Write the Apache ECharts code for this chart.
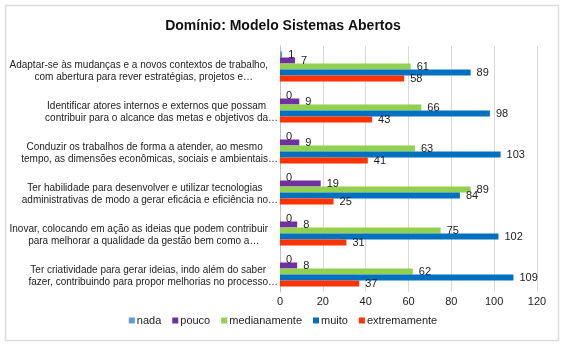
<!DOCTYPE html>
<html>
<head>
<meta charset="utf-8">
<script src="https://cdn.jsdelivr.net/npm/echarts@6/dist/echarts.min.js"></script>
<style>html,body{margin:0;padding:0;background:#fff}#c{width:566px;height:347px}</style>
</head>
<body>
<div id="c"></div>
<script>
var titleText = 'Domínio: Modelo Sistemas Abertos';
var categories = [
  ['Adaptar-se às mudanças e a novos contextos de trabalho,', 'com abertura para rever estratégias, projetos e…'],
  ['Identificar atores internos e externos que possam', 'contribuir para o alcance das metas e objetivos da…'],
  ['Conduzir os trabalhos de forma a atender, ao mesmo', 'tempo, as dimensões econômicas, sociais e ambientais…'],
  ['Ter habilidade para desenvolver e utilizar tecnologias', 'administrativas de modo a gerar eficácia e eficiência no…'],
  ['Inovar, colocando em ação as ideias que podem contribuir', 'para melhorar a qualidade da gestão bem como a…'],
  ['Ter criatividade para gerar ideias, indo além do saber', 'fazer, contribuindo para propor melhorias no processo…']
];
var seriesNames = ['nada', 'pouco', 'medianamente', 'muito', 'extremamente'];
var nada = [1, 0, 0, 0, 0, 0];
var pouco = [7, 9, 9, 19, 8, 8];
var medianamente = [61, 66, 63, 89, 75, 62];
var muito = [89, 98, 103, 84, 102, 109];
var extremamente = [58, 43, 41, 25, 31, 37];
var xTicks = [0, 20, 40, 60, 80, 100, 120];

var colors = ['#5b9bd5', '#7030a0', '#92d050', '#0070c0', '#ff3300'];
var values = [nada, pouco, medianamente, muito, extremamente];
var font = 'Liberation Sans, Arial, sans-serif';

var chart = echarts.init(document.getElementById('c'), null, {renderer: 'canvas'});
var series = seriesNames.map(function (n, i) {
  return {
    name: n,
    type: 'bar',
    data: values[i],
    barWidth: 6,
    barGap: '0%',
    itemStyle: {color: colors[i]},
    label: {
      show: true, position: 'right', distance: 6,
      color: '#222', fontSize: 11, fontFamily: font
    },
    emphasis: {disabled: true},
    animation: false
  };
});

var ES = {align: 'center', fontSize: 10, color: '#222', fontFamily: font, lineHeight: 12, width: 10};

chart.setOption({
  animation: false,
  color: colors,
  title: {
    text: titleText, left: 'center', top: 14,
    textStyle: {fontSize: 14, fontWeight: 'bold', color: '#111', fontFamily: font}
  },
  graphic: [{
    type: 'rect', shape: {x: 5.5, y: 5.5, width: 553, height: 335},
    style: {fill: 'none', stroke: '#dcdcdc', lineWidth: 1.5}, silent: true
  }],
  legend: {
    data: seriesNames, bottom: 16, left: 'center',
    itemWidth: 6, itemHeight: 6, itemGap: 11, icon: 'rect',
    textStyle: {fontSize: 11, color: '#222', fontFamily: font, padding: [0, 0, 0, -3]}
  },
  grid: {left: 280, right: 29, top: 46, bottom: 55, containLabel: false, outerBoundsMode: 'none'},
  xAxis: {
    type: 'value', min: xTicks[0], max: xTicks[xTicks.length - 1], interval: 20,
    axisLine: {show: false}, axisTick: {show: false},
    splitLine: {lineStyle: {color: '#d9d9d9'}},
    axisLabel: {fontSize: 11, color: '#222', fontFamily: font, margin: 4}
  },
  yAxis: {
    type: 'category', inverse: true,
    data: categories.map(function (c) { return c.join('\n'); }),
    axisLine: {lineStyle: {color: '#bfbfbf'}},
    axisTick: {show: false},
    axisLabel: {
      margin: 2, align: 'right', fontFamily: font,
      formatter: function (v) {
        return v.split('\n').map(function (l) {
          if (l.charAt(l.length - 1) === '…') {
            return '{c|' + l.slice(0, -1) + '}{e|…}';
          }
          return '{c|' + l + '}{b| }';
        }).join('\n');
      },
      rich: {
        c: {align: 'center', fontSize: 10, color: '#222', fontFamily: font, lineHeight: 12},
        e: ES,
        b: ES
      },
      padding: [10, 0, 0, 0]
    }
  },
  series: series
});
</script>
</body>
</html>
